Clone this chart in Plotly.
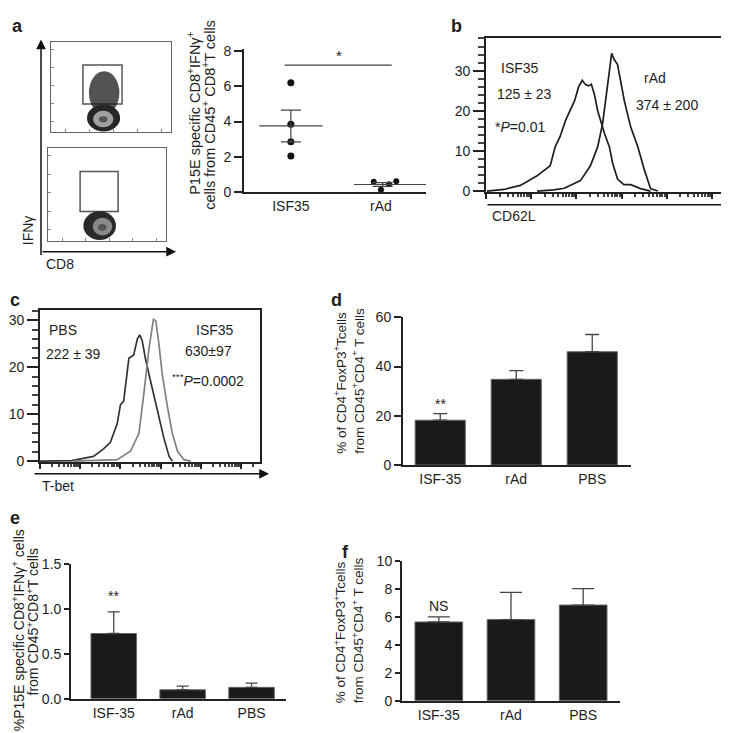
import numpy as np
import plotly.graph_objects as go

W, H = 729, 733
FONT = "Liberation Sans, Arial, Helvetica, sans-serif"
INK = "#1a1a1a"

# ---------------- data ----------------
# panel a (scatter)
a_groups = ["ISF35", "rAd"]
a_isf35_vals = [6.2, 3.85, 2.85, 2.05]
a_isf35_jitter = [0.0, 0.0, 0.0, 0.0]
a_rad_vals = [0.59, 0.13, 0.44, 0.61]
a_rad_jitter = [-0.08, 0.0, 0.09, 0.17]
a_means = [3.75, 0.43]
a_sem = [0.9, 0.11]
a_sig_level = 7.2

# panel b (CD62L histograms; x = log10 intensity, y = counts)
b_isf35_log = [0.02, 0.4, 0.76, 1.13, 1.42, 1.53, 1.64, 1.76, 1.96, 2.05, 2.13, 2.2,
               2.27, 2.33, 2.4, 2.47, 2.62, 2.73, 2.8, 2.91, 3.05, 3.2, 3.42, 3.64]
b_isf35_cnt = [0, 0.4, 1.4, 3.8, 6.3, 11, 13.6, 17.6, 22.5, 26, 27.6, 26.5,
               26.2, 26.6, 24, 20, 14.4, 11, 7, 3, 1.6, 1.6, 0.6, 0]
b_rad_log = [1.13, 1.5, 1.73, 2.09, 2.31, 2.47, 2.58, 2.65, 2.72, 2.78, 2.84, 2.91,
             3.06, 3.2, 3.36, 3.5, 3.64, 3.8]
b_rad_cnt = [0, 0.3, 0.7, 2.6, 6.3, 11, 16.8, 23, 29.8, 34.3, 32.7, 31.5,
             22.5, 16, 11, 5.4, 0.6, 0]

# panel c (T-bet histograms)
c_pbs_log = [0, 0.79, 1.33, 1.58, 1.75, 1.92, 2.0, 2.08, 2.21, 2.33, 2.42, 2.48,
             2.54, 2.62, 2.75, 2.92, 3.08, 3.21, 3.29]
c_pbs_cnt = [0, 0.1, 1.0, 2.6, 4.0, 8.0, 12.0, 12.8, 21.9, 22.6, 26.0, 26.9,
             25.7, 21.9, 17.0, 10.8, 4.9, 1.0, 0]
c_isf35_log = [0.83, 1.92, 2.25, 2.46, 2.58, 2.71, 2.82, 2.88, 2.96, 3.04, 3.17,
               3.29, 3.42, 3.58, 3.75]
c_isf35_cnt = [0, 0.3, 2.1, 5.9, 14.2, 24.0, 30.2, 29.9, 24.7, 18.4, 11.5,
               5.9, 2.1, 0.3, 0]

# bar panels
bar_cats = ["ISF-35", "rAd", "PBS"]
d_means = [18.2, 34.8, 46.0]
d_err = [2.7, 3.5, 7.0]
e_means = [0.725, 0.10, 0.127]
e_err = [0.24, 0.04, 0.047]
f_means = [5.63, 5.8, 6.84]
f_err = [0.37, 1.94, 1.18]

# flow gates (axis units 0-5)
gate_top = [1.33, 2.96, 1.58, 3.75]
gate_bot = [1.36, 2.97, 1.58, 3.74]


# ---------------- helpers ----------------
def dx(x0, x1):
    return [x0 / W, x1 / W]


def dy(y0, y1):
    return [1 - y1 / H, 1 - y0 / H]


def px(x):
    return x / W


def py(y):
    return 1 - y / H


fig = go.Figure()
ann = []
shapes = []

FS = 14
tickfont = dict(family=FONT, size=FS, color="#1e1e1e")


def label(txt, x, y, size=FS, angle=0, **kw):
    d = dict(x=px(x), y=py(y), xref="paper", yref="paper", text=txt, showarrow=False,
             textangle=angle, font=dict(family=FONT, size=size, color="#1e1e1e"))
    d.update(kw)
    ann.append(d)


# ---------------- panel a: flow plots ----------------
for k, (gate, xd, yd) in enumerate([(gate_top, dx(43, 163), dy(27, 119)),
                                    (gate_bot, dx(40, 158), dy(135, 230))]):
    n = "" if k == 0 else "2"
    fig.update_layout(**{
        "xaxis" + n: dict(domain=xd, range=[0, 5], showline=True, mirror=True, linecolor="#666",
                          linewidth=1.2, showgrid=False, zeroline=False, showticklabels=False,
                          ticks="inside", ticklen=3, tickcolor="#888", tickvals=[0.6, 1.6, 2.6, 3.6, 4.6],
                          anchor="y" + n, fixedrange=True),
        "yaxis" + n: dict(domain=yd, range=[0, 5], showline=True, mirror=True, linecolor="#666",
                          linewidth=1.2, showgrid=False, zeroline=False, showticklabels=False,
                          ticks="inside", ticklen=3, tickcolor="#888", tickvals=[0.6, 1.6, 2.6, 3.6, 4.6],
                          anchor="x" + n, fixedrange=True),
    })
    xr, yr = "x" + n, "y" + n
    shapes.append(dict(type="rect", xref=xr, yref=yr, x0=gate[0], x1=gate[1], y0=gate[2], y1=gate[3],
                       line=dict(color="#555", width=1.5)))

# density blobs
shapes += [
    dict(type="circle", xref="x", yref="y", x0=1.58, x1=2.85, y0=1.0, y1=3.4,
         fillcolor="rgba(25,25,25,0.75)", line=dict(width=0)),
    dict(type="circle", xref="x", yref="y", x0=1.5, x1=2.88, y0=0.05, y1=1.55,
         fillcolor="#262626", line=dict(width=0)),
    dict(type="circle", xref="x", yref="y", x0=1.75, x1=2.6, y0=0.28, y1=1.2,
         fillcolor="#a0a0a0", line=dict(width=0)),
    dict(type="circle", xref="x", yref="y", x0=2.0, x1=2.35, y0=0.55, y1=0.9,
         fillcolor="#555", line=dict(width=0)),
    dict(type="circle", xref="x2", yref="y2", x0=1.5, x1=2.88, y0=0.05, y1=1.6,
         fillcolor="#2a2a2a", line=dict(width=0)),
    dict(type="circle", xref="x2", yref="y2", x0=1.9, x1=2.72, y0=0.3, y1=1.25,
         fillcolor="#8a8a8a", line=dict(width=0)),
    dict(type="circle", xref="x2", yref="y2", x0=2.12, x1=2.48, y0=0.55, y1=0.92,
         fillcolor="#555", line=dict(width=0)),
]

# flow axis arrows and labels
ann.append(dict(x=px(33), y=py(24), xref="paper", yref="paper", text="", showarrow=True,
                ax=0, ay=217, arrowhead=2, arrowsize=1.3, arrowwidth=1.5, arrowcolor="#111"))
ann.append(dict(x=px(168), y=py(241), xref="paper", yref="paper", text="", showarrow=True,
                ax=-135, ay=0, arrowhead=2, arrowsize=1.3, arrowwidth=1.5, arrowcolor="#111"))
label("IFNγ", 20, 219, angle=-90)
label("CD8", 52, 254)

# ---------------- panel a: scatter ----------------
fig.add_trace(go.Scatter(x=[0 + j for j in a_isf35_jitter], y=a_isf35_vals, mode="markers",
                         marker=dict(color="#111", size=7), xaxis="x3", yaxis="y3", showlegend=False))
fig.add_trace(go.Scatter(x=[1 + j for j in a_rad_jitter], y=a_rad_vals, mode="markers",
                         marker=dict(color="#111", size=6), xaxis="x3", yaxis="y3", showlegend=False))
mean_centers = [0.0, 1.1]
mean_half = [0.35, 0.4]
for i, m in enumerate(a_means):
    fig.add_trace(go.Scatter(x=[mean_centers[i] - mean_half[i], mean_centers[i] + mean_half[i]], y=[m, m],
                             mode="lines", line=dict(color="#444", width=1.2),
                             xaxis="x3", yaxis="y3", showlegend=False))
fig.add_trace(go.Scatter(x=[0, 1.02], y=a_means, mode="markers", marker=dict(size=1, color="rgba(0,0,0,0)"),
                         error_y=dict(type="data", array=a_sem, color="#444", thickness=1.2, width=10),
                         xaxis="x3", yaxis="y3", showlegend=False))
fig.add_trace(go.Scatter(x=[-0.07, 1.12], y=[a_sig_level, a_sig_level], mode="lines",
                         line=dict(color="#444", width=1.2), xaxis="x3", yaxis="y3", showlegend=False))
ann.append(dict(x=0.53, y=7.75, xref="x3", yref="y3", text="*", showarrow=False,
                font=dict(family=FONT, size=15, color="#222")))
fig.update_layout(
    xaxis3=dict(domain=dx(236, 418), range=[-0.52, 1.5], tickvals=[0, 1], ticktext=a_groups,
                showline=True, linecolor="#222", linewidth=1.8, ticks="", showgrid=False, zeroline=False,
                tickfont=tickfont, anchor="y3", fixedrange=True),
    yaxis3=dict(domain=dy(34, 180), range=[0, 8.1], tickvals=[0, 2, 4, 6, 8], showline=True,
                linecolor="#222", linewidth=1.8, ticks="outside", ticklen=8, tickwidth=1.5,
                tickcolor="#222", showgrid=False, zeroline=False, tickfont=tickfont, anchor="x3",
                fixedrange=True),
)
label("P15E specific CD8<sup>+</sup>IFNγ<sup>+</sup>", 186, 100, size=14.5, angle=-90)
label("cells from CD45<sup>+</sup> CD8<sup>+</sup>T cells", 201, 101, size=14.5, angle=-90)

# ---------------- panel b ----------------
log_minor = [k + np.log10(m) for k in range(0, 6) for m in range(2, 10)]
fig.add_trace(go.Scatter(x=10 ** np.array(b_isf35_log), y=b_isf35_cnt, mode="lines",
                         line=dict(color="#1e1e1e", width=1.7), xaxis="x4", yaxis="y4", showlegend=False))
fig.add_trace(go.Scatter(x=10 ** np.array(b_rad_log), y=b_rad_cnt, mode="lines",
                         line=dict(color="#1e1e1e", width=1.7), xaxis="x4", yaxis="y4", showlegend=False))
fig.update_layout(
    xaxis4=dict(domain=dx(478, 723), type="log", range=[0, 5.42], showline=True, mirror=True,
                linecolor="#222", linewidth=1.6, ticks="outside", ticklen=5, tickwidth=1.5,
                tickcolor="#222", tickvals=[10 ** k for k in range(6)], showticklabels=False,
                minor=dict(ticks="outside", ticklen=3, tickcolor="#444",
                           tickvals=[10 ** v for v in log_minor]),
                showgrid=False, zeroline=False, anchor="y4", fixedrange=True),
    yaxis4=dict(domain=dy(23, 180), range=[-0.25, 38], tickvals=[0, 10, 20, 30], showline=True,
                mirror=True, linecolor="#222", linewidth=1.6, ticks="outside", ticklen=11, tickwidth=1.5,
                tickcolor="#222", minor=dict(ticks="outside", ticklen=6, dtick=2, tickcolor="#444"),
                showgrid=False, zeroline=False, tickfont=tickfont, anchor="x4", fixedrange=True),
)
ann.append(dict(x=px(728), y=py(193), xref="paper", yref="paper", text="", showarrow=True,
                ax=-250, ay=0, arrowhead=2, arrowsize=1.3, arrowwidth=1.5, arrowcolor="#111"))
label("CD62L", 482, 204, xanchor="left")
for txt, x, y in [("ISF35", 512, 53), ("125 ± 23", 516, 80), ("*<i>P</i>=0.01", 512, 113),
                  ("rAd", 647, 63), ("374 ± 200", 659, 91)]:
    label(txt, x, y)

# ---------------- panel c ----------------
fig.add_trace(go.Scatter(x=10 ** np.array(c_pbs_log), y=c_pbs_cnt, mode="lines",
                         line=dict(color="#333", width=1.7), xaxis="x5", yaxis="y5", showlegend=False))
fig.add_trace(go.Scatter(x=10 ** np.array(c_isf35_log), y=c_isf35_cnt, mode="lines",
                         line=dict(color="#808080", width=1.7), xaxis="x5", yaxis="y5", showlegend=False))
fig.update_layout(
    xaxis5=dict(domain=dx(32, 252), type="log", range=[0, 5.47], showline=True, mirror=True,
                linecolor="#222", linewidth=1.6, ticks="outside", ticklen=5, tickwidth=1.5,
                tickcolor="#222", tickvals=[10 ** k for k in range(6)], showticklabels=False,
                minor=dict(ticks="outside", ticklen=3, tickcolor="#444",
                           tickvals=[10 ** v for v in log_minor]),
                showgrid=False, zeroline=False, anchor="y5", fixedrange=True),
    yaxis5=dict(domain=dy(301, 456), range=[-0.2, 32.1], tickvals=[0, 10, 20, 30], showline=True,
                mirror=True, linecolor="#222", linewidth=1.6, ticks="outside", ticklen=11, tickwidth=1.5,
                tickcolor="#222", minor=dict(ticks="outside", ticklen=6, dtick=2, tickcolor="#444"),
                showgrid=False, zeroline=False, tickfont=tickfont, anchor="x5", fixedrange=True),
)
ann.append(dict(x=px(261), y=py(468), xref="paper", yref="paper", text="", showarrow=True,
                ax=-236, ay=0, arrowhead=2, arrowsize=1.3, arrowwidth=1.5, arrowcolor="#111"))
label("T-bet", 32, 480, xanchor="left")
for txt, x, y in [("PBS", 55, 321), ("222 ± 39", 65, 346), ("ISF35", 207, 321), ("630±97", 200, 342),
                  ("<sup>***</sup><i>P</i>=0.0002", 200, 372)]:
    label(txt, x, y)


# ---------------- bar panels d, e, f ----------------
def bar_panel(n, means, errs, xd, yd, xr, yr, ytick, capw, mark, mark_y, tlen):
    xa, ya = "x" + n, "y" + n
    fig.add_trace(go.Bar(x=list(range(len(bar_cats))), y=means, width=0.66,
                         marker=dict(color=INK, line=dict(color="#666", width=1)),
                         error_y=dict(type="data", symmetric=False, array=errs,
                                      arrayminus=[0] * len(errs), color="#444", thickness=1.3, width=capw),
                         xaxis=xa, yaxis=ya, showlegend=False))
    fig.update_layout(**{
        "xaxis" + n: dict(domain=xd, range=xr, tickvals=list(range(len(bar_cats))), ticktext=bar_cats,
                          showline=True, linecolor="#222", linewidth=2, ticks="", showgrid=False,
                          zeroline=False, tickfont=tickfont, anchor=ya, fixedrange=True),
        "yaxis" + n: dict(domain=yd, range=yr, tickvals=ytick, showline=True, linecolor="#222",
                          linewidth=2, ticks="outside", ticklen=tlen, tickwidth=1.5, tickcolor="#222",
                          showgrid=False, zeroline=False, tickfont=tickfont, anchor=xa, fixedrange=True),
    })
    ann.append(dict(x=0, y=mark_y, xref=xa, yref=ya, text=mark, showarrow=False,
                    font=dict(family=FONT, size=FS, color="#222")))


bar_panel("6", d_means, d_err, dx(395, 623), dy(308, 459), [-0.49, 2.51], [0, 60],
          [0, 20, 40, 60], 7, "**", 24.7, 7)
bar_panel("7", e_means, e_err, dx(63, 278), dy(560, 698), [-0.62, 2.5], [0, 1.5],
          [0, 0.5, 1.0, 1.5], 6, "**", 1.14, 5)
bar_panel("8", f_means, f_err, dx(394, 612), dy(557, 700), [-0.51, 2.51], [0, 10],
          [0, 2, 4, 6, 8, 10], 11, "NS", 6.8, 5)
fig.update_layout(yaxis7=dict(tickformat=".1f"))

treg1 = "% of CD4<sup>+</sup>FoxP3<sup>+</sup>Tcells"
treg2 = "from CD45<sup>+</sup>CD4<sup>+</sup> T cells"
label(treg1, 332, 375, size=13.5, angle=-90)
label(treg2, 350, 373, size=13.5, angle=-90)
label(treg1, 332, 630, size=13.5, angle=-90)
label(treg2, 350, 628, size=13.5, angle=-90)
label("%P15E specific CD8<sup>+</sup>IFNγ<sup>+</sup> cells", 10, 628, size=14, angle=-90)
label("from CD45<sup>+</sup>CD8<sup>+</sup>T cells", 25, 620, size=14, angle=-90)

# ---------------- panel labels ----------------
for lab, x, y in [("a", 9, 10), ("b", 448, 10), ("c", 7, 290), ("d", 328, 290), ("e", 7, 513), ("f", 337, 548)]:
    label("<b>%s</b>" % lab, x, y, size=18)

for a in ann:
    a.setdefault("xanchor", "center")
    a.setdefault("yanchor", "middle")

fig.update_layout(width=W, height=H, margin=dict(l=0, r=0, t=0, b=0), paper_bgcolor="white",
                  plot_bgcolor="rgba(0,0,0,0)", annotations=ann, shapes=shapes, bargap=0.3,
                  font=dict(family=FONT))
fig.write_html("out.html")
